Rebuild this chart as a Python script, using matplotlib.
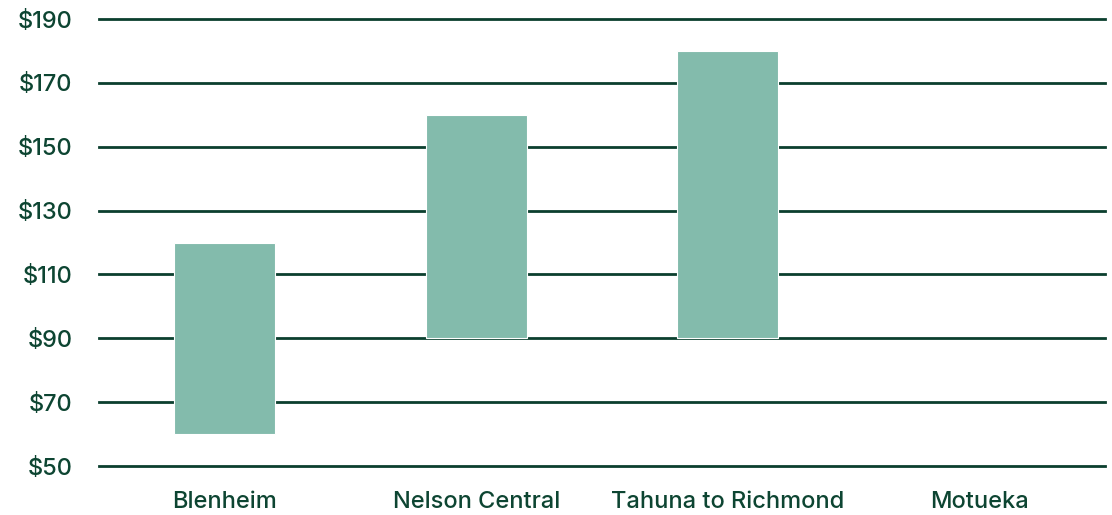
import numpy as np
import matplotlib.pyplot as plt

regions = ["Blenheim", "Nelson Central", "Tahuna to Richmond", "Motueka"]
low = [60, 90, 90, np.nan]
high = [120, 160, 180, np.nan]
yticks = [50, 70, 90, 110, 130, 150, 170, 190]

BAR = "#83bbac"
GRID = "#0b3f2e"
TEXT = "#0d4532"

plt.rcParams["font.family"] = ["Inter", "DejaVu Sans"]

fig = plt.figure(figsize=(11.12, 5.15), dpi=100)
ax = fig.add_axes([0.089, 0.0951, 0.9047, 0.868])

x = np.arange(len(regions))
heights = [h - l for h, l in zip(high, low)]
ax.bar(x, heights, bottom=low, width=0.4, color=BAR, edgecolor="white",
       linewidth=0.8, zorder=3)

ax.set_xlim(-0.5, len(regions) - 0.5)
ax.set_ylim(50, 190)
ax.set_yticks(yticks)
ax.set_yticklabels([f"${v}" for v in yticks])
ax.set_xticks(x)
ax.set_xticklabels(regions)

ax.grid(axis="y", color=GRID, linewidth=2, zorder=0)
ax.set_axisbelow(True)
for gl in ax.get_ygridlines():
    gl.set_clip_on(False)
for s in ax.spines.values():
    s.set_visible(False)
ax.tick_params(axis="both", length=0, labelsize=17, labelcolor=TEXT)
ax.tick_params(axis="y", pad=19)
ax.tick_params(axis="x", pad=18)
for lbl in ax.get_xticklabels() + ax.get_yticklabels():
    lbl.set_fontweight("medium")

fig.savefig("out.png", dpi=100)
